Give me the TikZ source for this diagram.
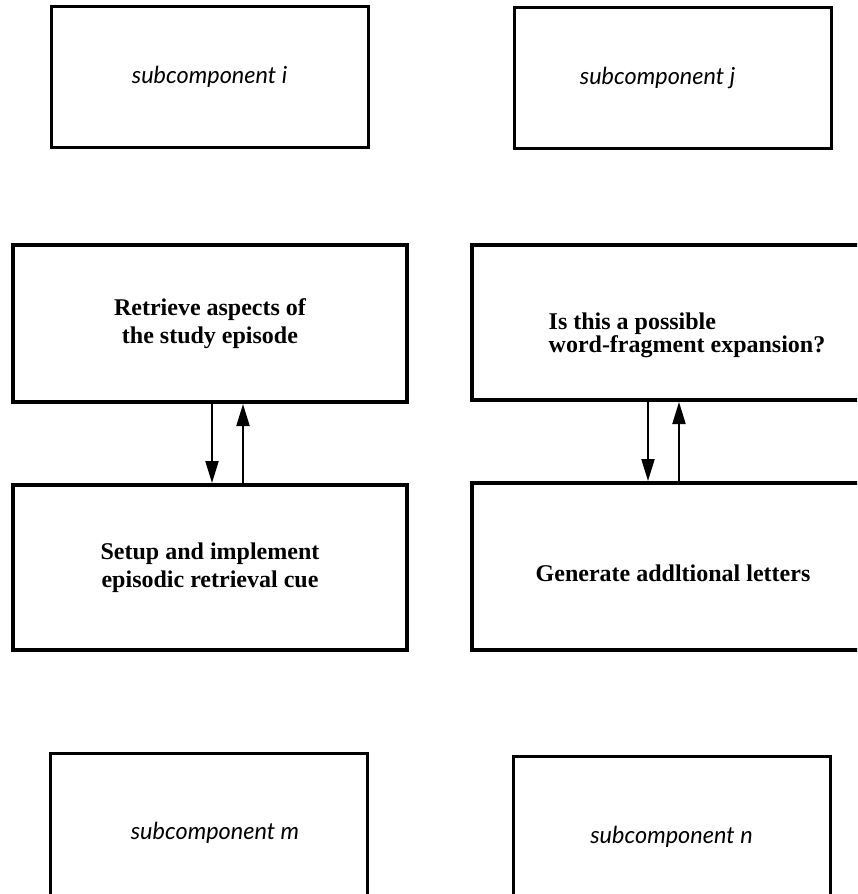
\documentclass[tikz,border=0pt]{standalone}
\usepackage{fontspec}
\setmainfont{Liberation Serif}
\newfontfamily\subfont{Lato}
\usetikzlibrary{arrows.meta,positioning}

\begin{document}
\begin{tikzpicture}[x=1pt, y=-1pt,
  node distance=79pt and 65pt,
  subbox/.style={draw, line width=3pt, minimum width=317pt, minimum height=141pt, font=\subfont\itshape\fontsize{23.5}{27}\selectfont},
  taskbox/.style={draw, line width=4pt, minimum width=394pt, align=center, font=\bfseries\fontsize{24}{28}\selectfont},
  arr/.style={-{Triangle[length=22pt, width=13pt]}, line width=2pt}]
\path[use as bounding box, clip] (0,0) rectangle (857,894);
% top row
\node[subbox] (subi) at (209.5,76.5) {subcomponent i};
\node[subbox] (subj) at (672.5,78) {subcomponent j\kern30pt\relax};
% middle: left pair
\node[taskbox, minimum height=157pt] (ret) at (210,323.5) {Retrieve aspects of\\the study episode};
\node[taskbox, minimum height=165pt, below=of ret] (setup) {Setup and implement\\episodic retrieval cue};
% middle: right pair
\node[taskbox, minimum width=430pt, minimum height=155pt, align=left, font={\bfseries\fontsize{24}{23}\selectfont}] (poss) at (687,322.5) {\rule{0pt}{42pt}Is this a possible\\word-fragment expansion?};
\node[taskbox, minimum width=430pt, minimum height=167pt, below=of poss] (gen) {\rule{0pt}{30pt}Generate addltional letters\hspace{28pt}};
% bottom row
\node[subbox, minimum height=160pt] (subm) at (208.5,833) {\hspace{13pt}subcomponent m};
\node[subbox, minimum height=162pt] (subn) at (671.5,837) {subcomponent n};
\draw[arr] ([xshift=2pt]ret.south) -- ([xshift=2pt]setup.north);
\draw[arr] ([xshift=33pt]setup.north) -- ([xshift=33pt]ret.south);
\draw[arr] ([xshift=-39pt]poss.south) -- ([xshift=-39pt]gen.north);
\draw[arr] ([xshift=-8pt]gen.north) -- ([xshift=-8pt]poss.south);
\end{tikzpicture}
\end{document}
